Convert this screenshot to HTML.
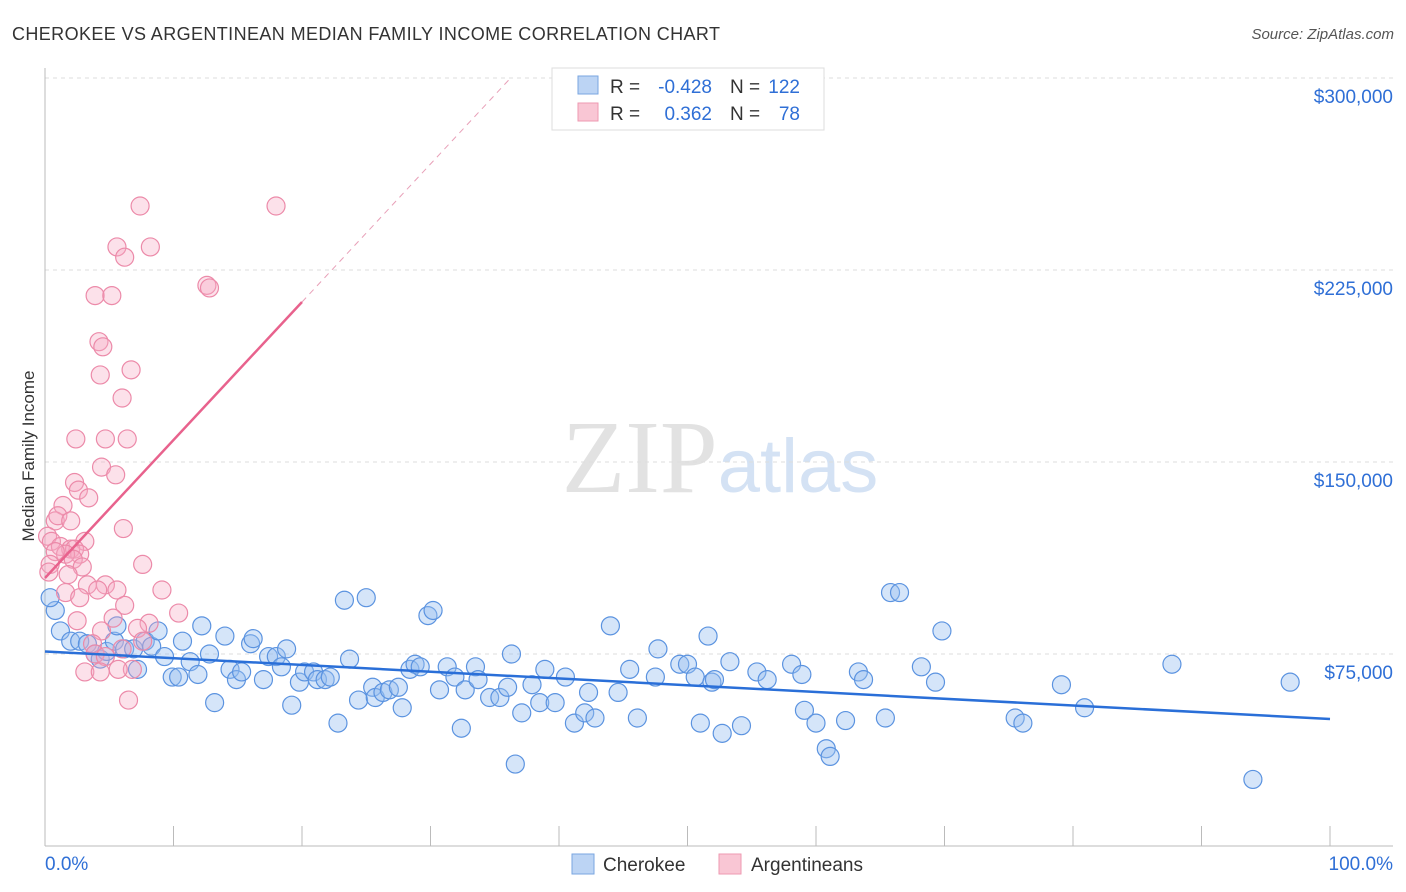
<!DOCTYPE html>
<html><head><meta charset="utf-8"><style>
body{margin:0;background:#fff;font-family:"Liberation Sans",sans-serif}
svg{display:block}
</style></head><body>
<svg id="chart" width="1406" height="892" xmlns="http://www.w3.org/2000/svg">
<text x="12" y="40" font-size="18" fill="#333" textLength="708" lengthAdjust="spacing">CHEROKEE VS ARGENTINEAN MEDIAN FAMILY INCOME CORRELATION CHART</text>
<text x="1394" y="39" font-size="15" fill="#555" text-anchor="end" font-style="italic">Source: ZipAtlas.com</text>
<text x="720" y="492" font-size="104" text-anchor="middle" fill="#e2e2e2" font-family="Liberation Serif">ZIP<tspan fill="#d4e2f4" font-family="Liberation Sans" font-size="76">atlas</tspan></text>
<text transform="translate(34,456) rotate(-90)" font-size="17" fill="#333" text-anchor="middle">Median Family Income</text>
<g id="grid"></g><g id="axes"></g><g id="pts"></g><g id="trend"></g>
<g>
<rect x="552" y="68" width="272" height="62" fill="#fff" stroke="#ddd"/>
<rect x="578" y="76" width="20" height="18" fill="#bcd4f4" stroke="#7aa6e0"/>
<rect x="578" y="103" width="20" height="18" fill="#f9c6d4" stroke="#ee99b2"/>
<text x="610" y="93" font-size="19" fill="#333">R =</text>
<text x="712" y="93" font-size="19" fill="#2f6fd6" text-anchor="end">-0.428</text>
<text x="730" y="93" font-size="19" fill="#333">N =</text>
<text x="800" y="93" font-size="19" fill="#2f6fd6" text-anchor="end">122</text>
<text x="610" y="120" font-size="19" fill="#333">R =</text>
<text x="712" y="120" font-size="19" fill="#2f6fd6" text-anchor="end">0.362</text>
<text x="730" y="120" font-size="19" fill="#333">N =</text>
<text x="800" y="120" font-size="19" fill="#2f6fd6" text-anchor="end">78</text>
</g>
<g>
<rect x="572" y="854" width="22" height="20" fill="#bcd4f4" stroke="#7aa6e0"/>
<text x="603" y="871" font-size="19" fill="#333">Cherokee</text>
<rect x="719" y="854" width="22" height="20" fill="#f9c6d4" stroke="#ee99b2"/>
<text x="751" y="871" font-size="19" fill="#333">Argentineans</text>
</g>
<text x="45" y="870" font-size="19" fill="#2f6fd6">0.0%</text>
<text x="1393" y="870" font-size="19" fill="#2f6fd6" text-anchor="end">100.0%</text>
</svg>
<script>
const yTicks=[75000,150000,225000,300000];
const yTickLabels=["$75,000","$150,000","$225,000","$300,000"];
const xTicks=[0,10,20,30,40,50,60,70,80,90,100];
const blueX=[0.8,0.4,1.2,2,2.7,3.3,3.9,4.3,4.8,5.4,5.6,6.2,6.9,7.2,7.8,8.3,8.8,9.3,9.9,10.4,10.7,11.3,11.9,12.2,12.8,13.2,14,14.4,14.9,15.3,16,16.2,17,17.4,18,18.4,18.8,19.2,19.8,20.2,20.9,21.2,21.8,22.2,22.8,23.3,23.7,24.4,25,25.5,25.7,26.3,26.8,27.5,27.8,28.4,28.8,29.2,29.8,30.2,30.7,31.3,31.9,32.4,32.7,33.5,33.7,34.6,35.4,36,36.3,36.6,37.1,37.9,38.5,38.9,39.7,40.5,41.2,42,42.3,42.8,44,44.6,45.5,46.1,47.5,47.7,49.4,50,50.6,51,51.6,51.9,52.1,52.7,53.3,54.2,55.4,56.2,58.1,58.9,59.1,60,60.8,61.1,62.3,63.3,63.7,65.4,65.8,66.5,68.2,69.3,69.8,75.5,76.1,79.1,80.9,87.7,94,96.9];
const blueY=[92,97,84,80,80,79,75,73,76,80,86,77,77,69,80,78,84,74,66,66,80,72,67,86,75,56,82,69,65,68,79,81,65,74,74,70,77,55,64,68,68,65,65,66,48,96,73,57,97,62,58,60,61,62,54,69,71,70,90,92,61,70,66,46,61,70,65,58,58,62,75,32,52,63,56,69,56,66,48,52,60,50,86,60,69,50,66,77,71,71,66,48,82,64,65,44,72,47,68,65,71,67,53,48,38,35,49,68,65,50,99,99,70,64,84,50,48,63,54,71,26,64];
const pinkX=[7.4,17.98,5.6,8.2,6.2,12.6,12.8,3.9,5.2,4.2,4.5,4.3,6.7,6,2.4,4.7,6.4,4.4,5.5,2.3,2.6,3.4,1.4,6.1,0.8,1,2,0.2,0.5,3.1,1.2,2,2.3,2.7,1.6,0.8,0.4,2.2,2.9,7.6,1.8,0.3,3.3,4.7,5.6,9.1,1.6,4.1,2.7,6.2,10.4,2.5,5.3,8.1,4.4,7.2,3.7,7.6,6,3.9,4.7,6.8,3.1,4.3,5.7,6.5];
const pinkY=[250,250,234,234,230,219,218,215,215,197,195,184,186,175,159,159,159,148,145,142,139,136,133,124,127,129,127,121,119,119,117,116,116,114,114,115,110,112,109,110,106,107,102,102,100,100,99,100,97,94,91,88,89,87,84,85,79,80,77,75,74,69,68,68,69,57];
const blueTrend=[76000,49600];
const pinkTrend=[104700,5390];
const X=p=>45+p*12.85, Y=v=>846-v*192/75000;
const NS="http://www.w3.org/2000/svg";
function mk(tag,attrs,parent){const e=document.createElementNS(NS,tag);for(const k in attrs)e.setAttribute(k,attrs[k]);document.getElementById(parent).appendChild(e);return e;}
yTicks.forEach((v,i)=>{
 const l=mk('line',{x1:45,x2:1393,y1:Y(v),y2:Y(v),stroke:'#ddd','stroke-dasharray':'4,4'},'grid');
 
 
 const t=mk('text',{x:1393,y:Y(v)+25,'font-size':19,fill:'#2f6fd6','text-anchor':'end'},'grid');
 t.textContent=yTickLabels[i];
 
 
});
const ax=mk('line',{x1:45,x2:45,y1:68,y2:846,stroke:'#bbb'},'axes');


const bx=mk('line',{x1:45,x2:1393,y1:846,y2:846,stroke:'#bbb'},'axes');


xTicks.forEach(p=>{const t=mk('line',{x1:X(p),x2:X(p),y1:826,y2:846,stroke:'#bbb'},'axes');
 
 });
blueX.forEach((p,i)=>{const c=mk('circle',{cx:X(p),cy:Y(blueY[i]*1000),r:9,fill:'rgba(150,190,240,0.4)',stroke:'#5b93e0','stroke-width':1.2},'pts');
 
 });
pinkX.forEach((p,i)=>{const c=mk('circle',{cx:X(p),cy:Y(pinkY[i]*1000),r:9,fill:'rgba(245,170,195,0.35)',stroke:'#ec8aa9','stroke-width':1.2},'pts');
 
 });
const bl=mk('line',{x1:X(0),y1:Y(blueTrend[0]),x2:X(100),y2:Y(blueTrend[1]),stroke:'#2a6fd8','stroke-width':2.5},'trend');


const pl=mk('line',{x1:X(0),y1:Y(pinkTrend[0]),x2:X(20),y2:Y(pinkTrend[0]+20*pinkTrend[1]),stroke:'#e8628d','stroke-width':2.5},'trend');


const xe=(300000-pinkTrend[0])/pinkTrend[1];
const pd=mk('line',{x1:X(20),y1:Y(pinkTrend[0]+20*pinkTrend[1]),x2:X(xe),y2:Y(300000),stroke:'#e8a0b8','stroke-width':1,'stroke-dasharray':'6,5'},'trend');


</script>
</body></html>
